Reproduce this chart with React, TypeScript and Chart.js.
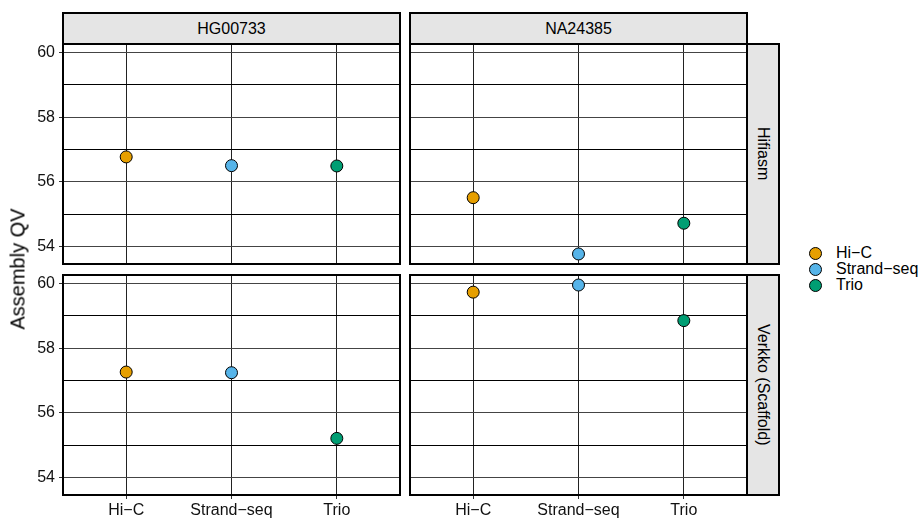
import React, { useEffect, useRef } from 'react';
import { Chart, registerables } from 'chart.js';

Chart.register(...registerables);

// ---- data ----
const categories = ['Hi\u2212C', 'Strand\u2212seq', 'Trio'];
const sampleLabels = ['HG00733', 'NA24385'];
const assemblerLabels = ['Hifiasm', 'Verkko (Scaffold)'];
const hg00733Hifiasm = [56.77, 56.5, 56.49];
const na24385Hifiasm = [55.51, 53.77, 54.72];
const hg00733Verkko = [57.26, 57.24, 55.21];
const na24385Verkko = [59.73, 59.95, 58.85];
const yMajorTicks = [54, 56, 58, 60];
const yMinorTicks = [55, 57, 59];
const yTitle = 'Assembly QV';
const pointColors = ['#E69F00', '#56B4E9', '#009E73'];

// ---- layout ----
const FONT = '"Liberation Sans", Arial, Helvetica, sans-serif';
const Y_MIN = 53.46;
const Y_MAX = 60.26;
const X_MIN = 0.4;
const X_MAX = 3.6;
const PANEL_W = 337;
const PANEL_H = 220;
const COL_LEFT = [63, 410];
const ROW_TOP = [44, 275];
const Y_AXIS_W = 63;
const X_AXIS_H = 24;
const STRIP_TOP = 12;
const STRIP_SIZE = 32;

function zeroPad(s: any) {
  s.paddingTop = 0;
  s.paddingBottom = 0;
  s.paddingLeft = 0;
  s.paddingRight = 0;
}

type PanelProps = { values: number[]; showX: boolean; showY: boolean; left: number; top: number };

function Panel({ values, showX, showY, left, top }: PanelProps) {
  const ref = useRef<HTMLCanvasElement>(null);
  const cw = PANEL_W + (showY ? Y_AXIS_W : 0);
  const ch = PANEL_H + (showX ? X_AXIS_H : 0);
  const cl = left - (showY ? Y_AXIS_W : 0);

  useEffect(() => {
    const allY = [...yMajorTicks, ...yMinorTicks].sort((a, b) => a - b);
    const chart = new Chart(ref.current as HTMLCanvasElement, {
      type: 'scatter',
      data: {
        datasets: [
          {
            data: values.map((v, i) => ({ x: i + 1, y: v })),
            pointBackgroundColor: pointColors,
            pointBorderColor: '#000',
            pointBorderWidth: 1,
            pointRadius: 6,
            pointHoverRadius: 6,
            clip: false,
          },
        ],
      },
      options: {
        responsive: false,
        animation: false,
        devicePixelRatio: 1,
        events: [],
        layout: { padding: 0, autoPadding: false },
        plugins: { legend: { display: false }, tooltip: { enabled: false } },
        scales: {
          x: {
            type: 'linear',
            min: X_MIN,
            max: X_MAX,
            afterBuildTicks: (s: any) => {
              s.ticks = categories.map((_, i) => ({ value: i + 1 }));
            },
            afterFit: (s: any) => {
              s.height = showX ? X_AXIS_H : 0;
              zeroPad(s);
            },
            ticks: {
              display: showX,
              callback: (v: any) => categories[Math.round(v) - 1],
              color: '#111',
              font: { family: FONT, size: 16 },
              padding: 2,
              maxRotation: 0,
              autoSkip: false,
            },
            grid: {
              color: '#222',
              lineWidth: 1,
              drawTicks: showX,
              tickLength: 4,
              tickColor: '#333',
            },
            border: { display: false },
          },
          y: {
            type: 'linear',
            min: Y_MIN,
            max: Y_MAX,
            afterBuildTicks: (s: any) => {
              s.ticks = allY.map((v) => ({ value: v }));
            },
            afterFit: (s: any) => {
              s.width = showY ? Y_AXIS_W : 0;
              zeroPad(s);
            },
            ticks: {
              display: showY,
              callback: (v: any) => (yMajorTicks.includes(v) ? String(v) : ''),
              color: '#111',
              font: { family: FONT, size: 16 },
              padding: 4,
              autoSkip: false,
            },
            grid: {
              color: (ctx: any) => (ctx.tick && yMajorTicks.includes(ctx.tick.value) ? '#444' : '#000'),
              lineWidth: 1,
              drawTicks: showY,
              tickLength: 4,
              tickColor: (ctx: any) =>
                ctx.tick && yMajorTicks.includes(ctx.tick.value) ? '#333' : 'rgba(0,0,0,0)',
            },
            border: { display: false },
          },
        },
      } as any,
    });
    return () => chart.destroy();
  }, []);

  return (
    <>
      <canvas
        ref={ref}
        width={cw}
        height={ch}
        style={{ position: 'absolute', left: cl, top, width: cw, height: ch }}
      />
      <div
        style={{
          position: 'absolute',
          left: left - 1,
          top: top - 1,
          width: PANEL_W + 2,
          height: PANEL_H + 2,
          border: '2px solid #000',
          boxSizing: 'border-box',
          pointerEvents: 'none',
        }}
      />
    </>
  );
}

export default function App() {
  const panelValues = [
    [hg00733Hifiasm, na24385Hifiasm],
    [hg00733Verkko, na24385Verkko],
  ];
  return (
    <div
      style={{
        position: 'absolute',
        left: 0,
        top: 0,
        width: 921,
        height: 519,
        background: '#fff',
        fontFamily: FONT,
        color: '#000',
        overflow: 'hidden',
      }}
    >
      {panelValues.map((row, r) =>
        row.map((vals, c) => (
          <Panel
            key={`${r}-${c}`}
            values={vals}
            showX={r === 1}
            showY={c === 0}
            left={COL_LEFT[c]}
            top={ROW_TOP[r]}
          />
        ))
      )}
      {sampleLabels.map((s, c) => (
        <div
          key={s}
          style={{
            position: 'absolute',
            left: COL_LEFT[c] - 1,
            top: STRIP_TOP,
            width: PANEL_W + 2,
            height: STRIP_SIZE + 1,
            background: '#e5e5e5',
            border: '2px solid #000',
            boxSizing: 'border-box',
            display: 'flex',
            alignItems: 'center',
            justifyContent: 'center',
            fontSize: 16,
          }}
        >
          {s}
        </div>
      ))}
      {assemblerLabels.map((a, r) => (
        <div
          key={a}
          style={{
            position: 'absolute',
            left: COL_LEFT[1] + PANEL_W - 1,
            top: ROW_TOP[r] - 1,
            width: STRIP_SIZE + 2,
            height: PANEL_H + 2,
            background: '#e5e5e5',
            border: '2px solid #000',
            boxSizing: 'border-box',
            display: 'flex',
            alignItems: 'center',
            justifyContent: 'center',
            fontSize: 16,
          }}
        >
          <span style={{ writingMode: 'vertical-rl', whiteSpace: 'nowrap' }}>{a}</span>
        </div>
      ))}
      <div
        style={{
          position: 'absolute',
          left: 18,
          top: 269,
          transform: 'translate(-50%, -50%) rotate(-90deg)',
          whiteSpace: 'nowrap',
          fontSize: 20,
        }}
      >
        {yTitle}
      </div>
      {categories.map((cat, i) => (
        <div
          key={cat}
          style={{
            position: 'absolute',
            left: 809,
            top: 246 + i * 16,
            height: 14,
            display: 'flex',
            alignItems: 'center',
            whiteSpace: 'nowrap',
            fontSize: 16,
          }}
        >
          <span
            style={{
              display: 'inline-block',
              width: 13,
              height: 13,
              borderRadius: '50%',
              background: pointColors[i],
              border: '1px solid #000',
              boxSizing: 'border-box',
              marginRight: 14,
            }}
          />
          <span>{cat}</span>
        </div>
      ))}
    </div>
  );
}
